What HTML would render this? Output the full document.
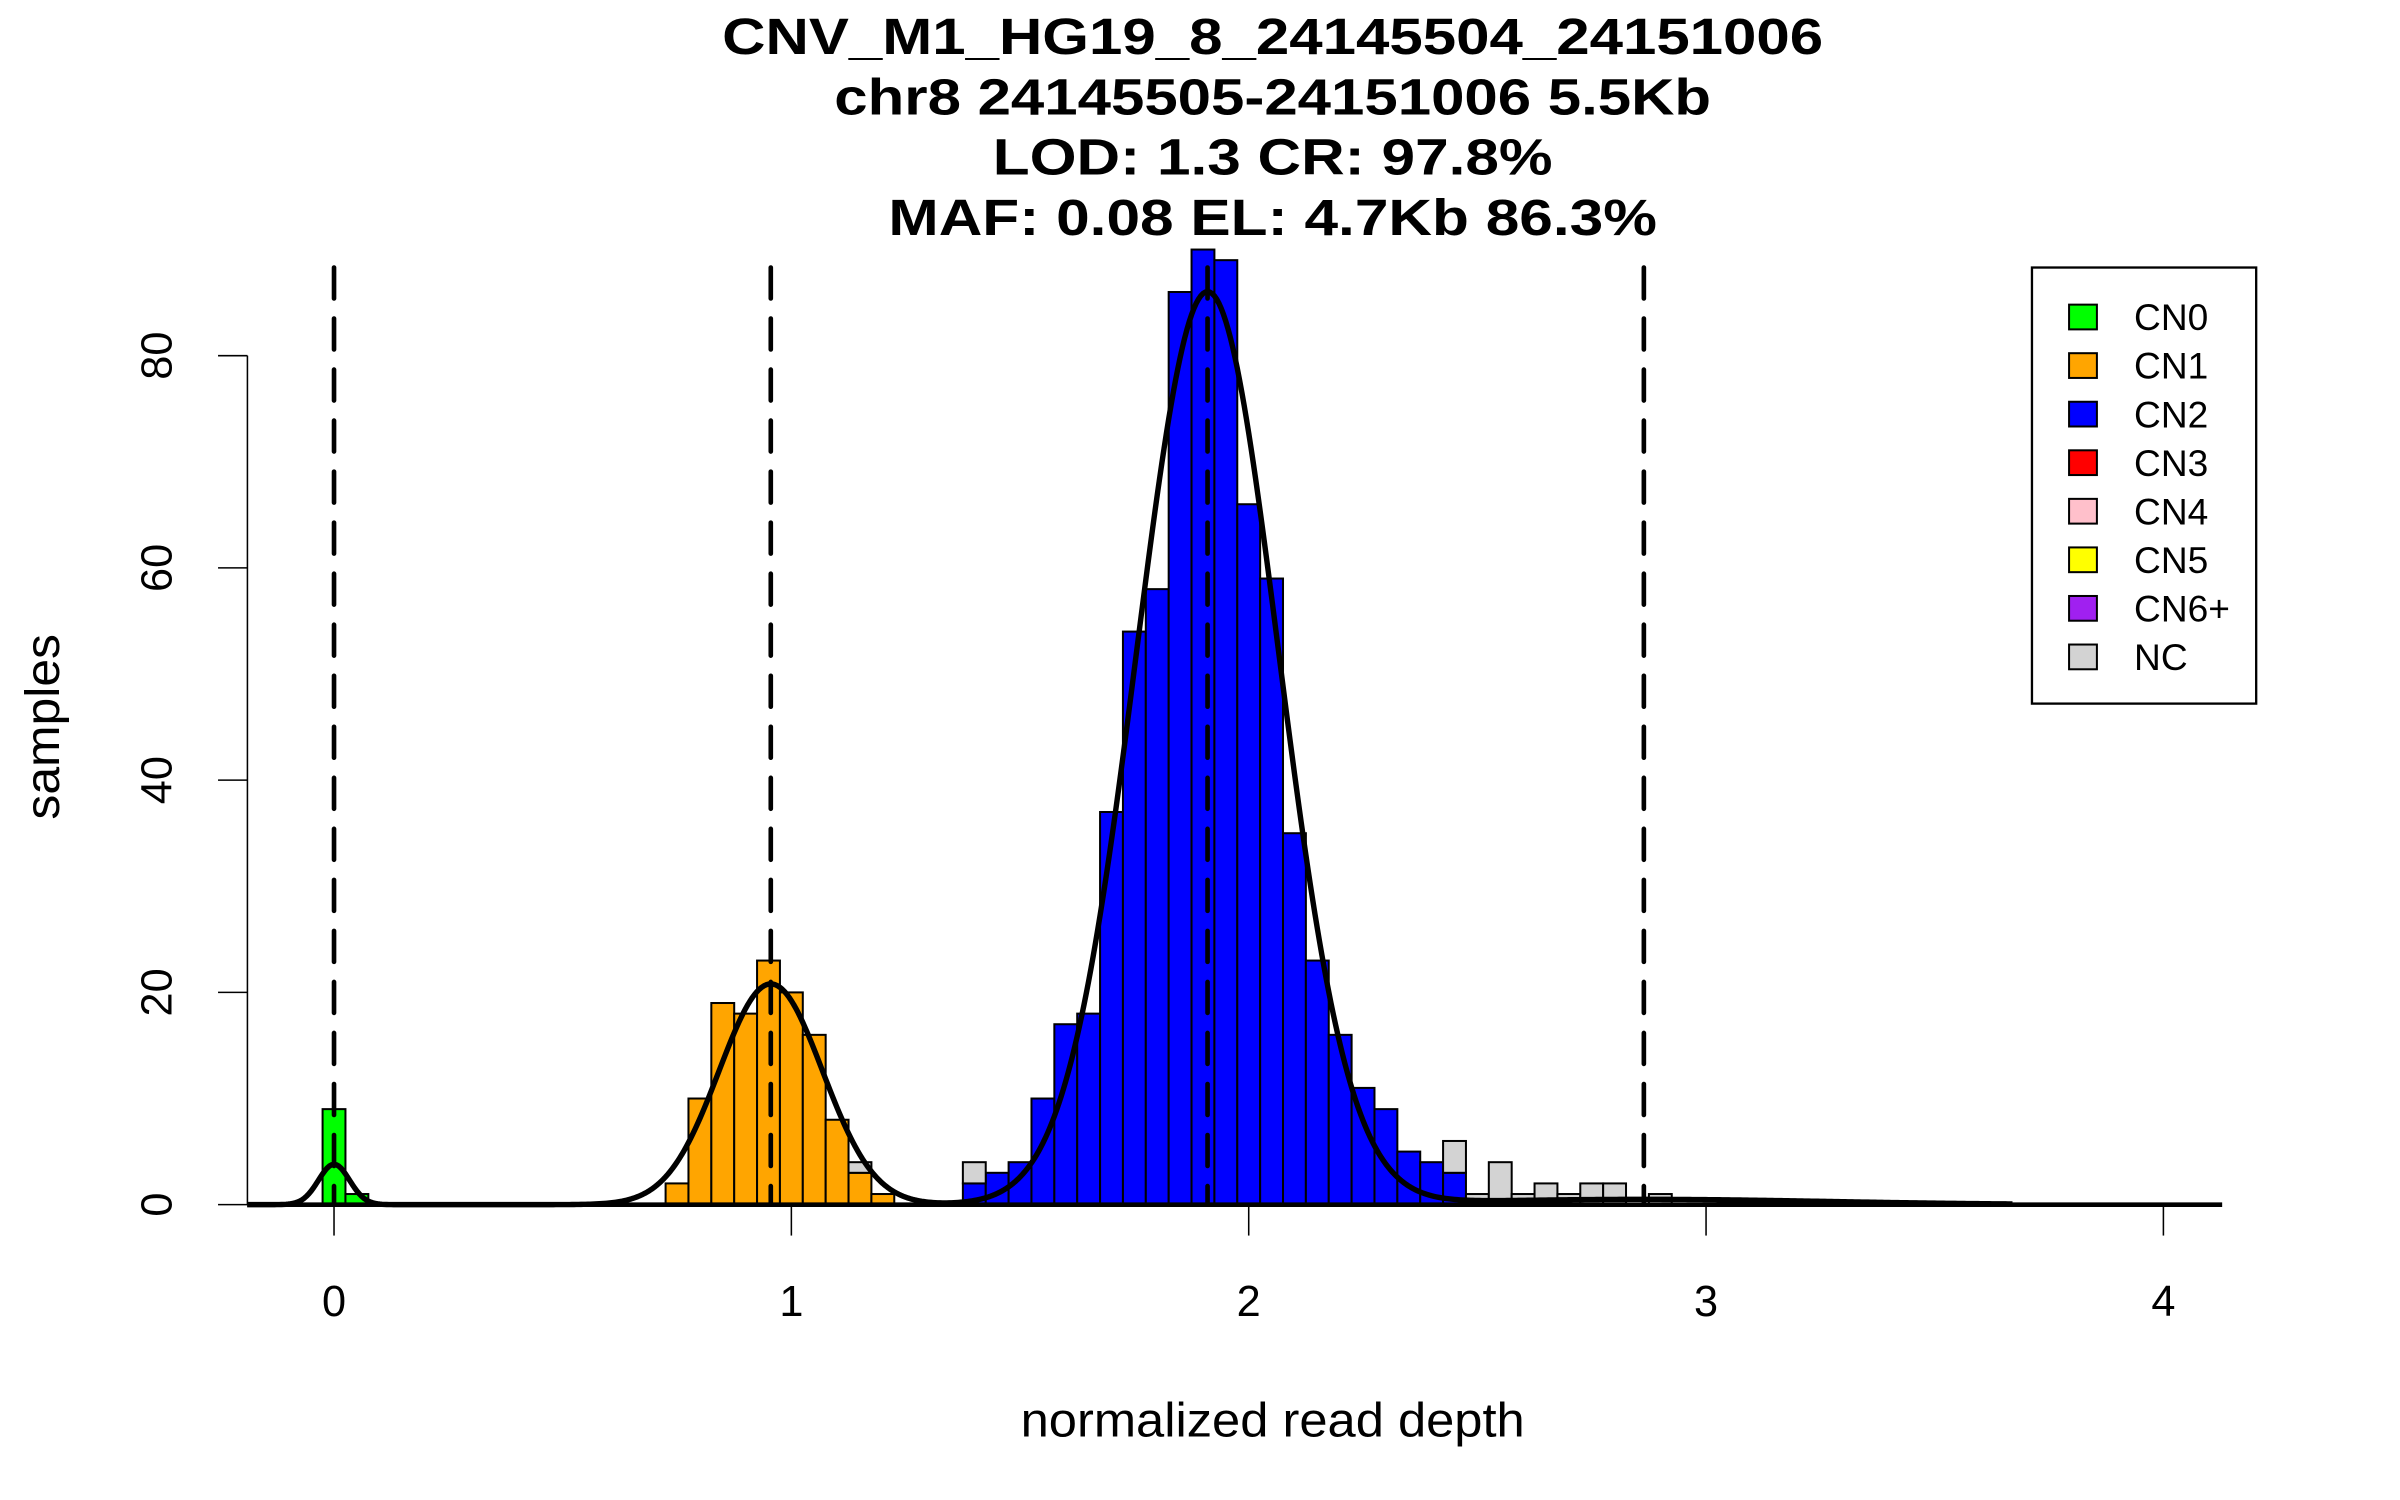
<!DOCTYPE html>
<html><head><meta charset="utf-8"><style>
html,body{margin:0;padding:0;background:#fff;}
svg{display:block;}
text{font-family:"Liberation Sans",Arial,sans-serif;}
</style></head><body>
<svg id="chart" width="2400" height="1500" viewBox="0 0 1552 970" xmlns="http://www.w3.org/2000/svg">
<rect width="1552" height="970" fill="#fff"/>
<g font-weight="bold" font-size="33" text-anchor="middle">
<text x="823" y="35" textLength="712" lengthAdjust="spacingAndGlyphs">CNV_M1_HG19_8_24145504_24151006</text>
<text x="823" y="74" textLength="567" lengthAdjust="spacingAndGlyphs">chr8 24145505-24151006 5.5Kb</text>
<text x="823" y="113" textLength="362" lengthAdjust="spacingAndGlyphs">LOD: 1.3 CR: 97.8%</text>
<text x="823" y="152" textLength="497" lengthAdjust="spacingAndGlyphs">MAF: 0.08 EL: 4.7Kb 86.3%</text>
</g>
<g id="bars"></g>
<g id="axes"></g>
<g id="overlay"></g>
<text x="823" y="929" font-size="31" text-anchor="middle" textLength="326" lengthAdjust="spacingAndGlyphs">normalized read depth</text>
<text x="0" y="0" font-size="31" text-anchor="middle" textLength="120" lengthAdjust="spacingAndGlyphs" transform="translate(38,470) rotate(-90)">samples</text>
<g id="legend">
<rect x="1314" y="173" width="145" height="282" fill="#fff" stroke="#000" stroke-width="1.5"/>
</g>
</svg>
<script>
// bin edges start (left edge) and counts; bin width 0.05
const binWidth = 0.05;
const cn0Start = -0.025;
const cn0Counts = [9, 1];
const cn1Start = 0.725;
const cn1Counts = [2, 10, 19, 18, 23, 20, 16, 8, 3, 1];
const cn2Start = 1.375;
const cn2Counts = [2, 3, 4, 10, 17, 18, 37, 54, 58, 86, 90, 89, 66, 59, 35, 23, 16, 11, 9, 5, 4, 3];
const ncStart = 1.125;
// NC counts stacked on top of other classes, bins from 1.125
const ncCounts = [1, 0, 0, 0, 0, 2, 0, 0, 0, 0, 0, 0, 0, 0, 0, 0, 0, 0, 0, 0, 0, 0, 0, 0, 0, 0, 3, 1, 4, 1, 2, 1, 2, 2, 0, 1];
// fitted mixture components
const compMeans = [0, 0.955, 1.91, 2.864];
const compSds = [0.034, 0.113, 0.155, 0.4];
const compPeaks = [3.8, 20.8, 86, 0.5];
const xTicks = [0, 1, 2, 3, 4];
const yTicks = [0, 20, 40, 60, 80];
const legendLabels = ["CN0", "CN1", "CN2", "CN3", "CN4", "CN5", "CN6+", "NC"];
const legendColors = ["#00ff00", "#ffa500", "#0000ff", "#ff0000", "#ffc0cb", "#ffff00", "#a020f0", "#d3d3d3"];

const NS = "http://www.w3.org/2000/svg";
const X0 = 216, XU = 295.75, Y0 = 779, YU = 6.8625;
const sx = v => X0 + v * XU;
const sy = c => Y0 - c * YU;
function mk(tag, attrs, parent) {
  const e = document.createElementNS(NS, tag);
  for (const k in attrs) e.setAttribute(k, attrs[k]);
  parent.appendChild(e);
  return e;
}
const bars = document.getElementById('bars');
const base = {};
function drawSeries(start, counts, color, name) {
  counts.forEach((c, i) => {
    const left = start + i * binWidth;
    const key = Math.round(left / binWidth * 2);
    const b0 = base[key] || 0;
    if (c > 0) {
      const r = mk('rect', {x: sx(left), y: sy(b0 + c), width: binWidth * XU, height: c * YU, fill: color, stroke: '#000', 'stroke-width': 1.3}, bars);
      
      
    }
    base[key] = b0 + c;
  });
}
drawSeries(cn0Start, cn0Counts, legendColors[0], 'cn0');
drawSeries(cn1Start, cn1Counts, legendColors[1], 'cn1');
drawSeries(cn2Start, cn2Counts, legendColors[2], 'cn2');
drawSeries(ncStart, ncCounts, legendColors[7], 'nc');

const axes = document.getElementById('axes');
let ax = mk('line', {x1: sx(xTicks[0]), x2: sx(xTicks[xTicks.length - 1]), y1: Y0, y2: Y0, stroke: '#000', 'stroke-width': 1}, axes);


xTicks.forEach(t => {
  const l = mk('line', {x1: sx(t), x2: sx(t), y1: Y0, y2: Y0 + 20, stroke: '#000', 'stroke-width': 1}, axes);
  
  
  const tx = mk('text', {x: sx(t), y: 851, 'font-size': 28, 'text-anchor': 'middle'}, axes);
  tx.textContent = t;
  
  
});
ax = mk('line', {x1: 160, x2: 160, y1: sy(yTicks[0]), y2: sy(yTicks[yTicks.length - 1]), stroke: '#000', 'stroke-width': 1}, axes);


yTicks.forEach(t => {
  const l = mk('line', {x1: 141, x2: 160, y1: sy(t), y2: sy(t), stroke: '#000', 'stroke-width': 1}, axes);
  
  
  const tx = mk('text', {x: 0, y: 0, 'font-size': 28, 'text-anchor': 'middle', transform: 'translate(111,' + sy(t) + ') rotate(-90)'}, axes);
  tx.textContent = t;
  
  
});

const ov = document.getElementById('overlay');
let bl = mk('line', {x1: 160, x2: 1437, y1: Y0, y2: Y0, stroke: '#000', 'stroke-width': 3}, ov);


compMeans.forEach(m => {
  const d = mk('line', {x1: sx(m), x2: sx(m), y1: 173, y2: Y0, stroke: '#000', 'stroke-width': 3, 'stroke-dasharray': '20 13', 'stroke-linecap': 'round'}, ov);
  
  
});
let pts = [];
for (let v = -0.19; v <= 3.67; v += 0.005) {
  let y = 0;
  for (let k = 0; k < compMeans.length; k++) {
    const z = (v - compMeans[k]) / compSds[k];
    y += compPeaks[k] * Math.exp(-0.5 * z * z);
  }
  pts.push(sx(v).toFixed(2) + ',' + sy(y).toFixed(2));
}
const curve = mk('polyline', {points: pts.join(' '), fill: 'none', stroke: '#000', 'stroke-width': 3.5, 'stroke-linejoin': 'round'}, ov);



const lg = document.getElementById('legend');
legendLabels.forEach((lab, i) => {
  const y = 205 + i * 31.4;
  const s = mk('rect', {x: 1338, y: y - 8, width: 18, height: 16, fill: legendColors[i], stroke: '#000', 'stroke-width': 1.3}, lg);
  
  
  const t = mk('text', {x: 1380, y: y + 8.5, 'font-size': 24}, lg);
  t.textContent = lab;
  
  
});
</script>
</body></html>
